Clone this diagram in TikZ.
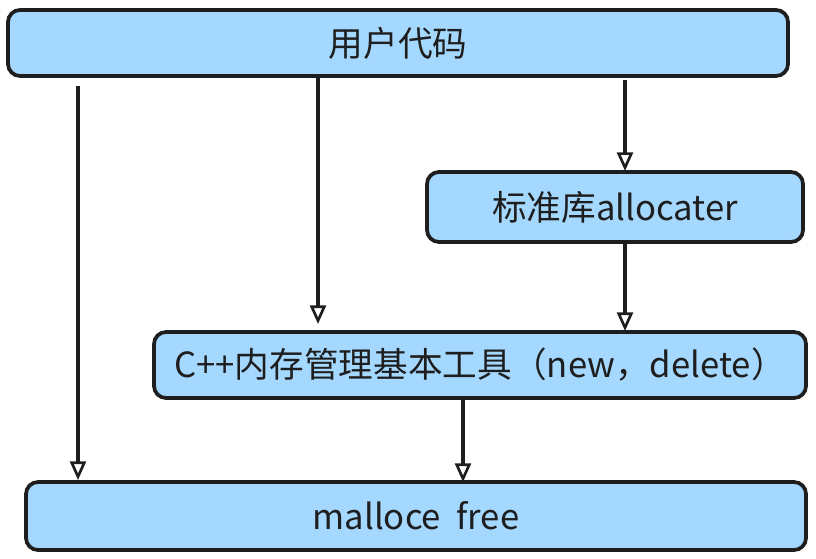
\documentclass[tikz,border=0pt]{standalone}
\usepackage{fontspec}
\setmainfont{Noto Sans CJK SC}
\usetikzlibrary{arrows.meta}
\definecolor{boxfill}{HTML}{A5D8FF}
\definecolor{ink}{HTML}{1E1E1E}
\tikzset{
  box/.style={draw=ink, fill=boxfill, line width=2.8pt, rounded corners=9pt, font=\fontsize{26}{30}\selectfont, text=ink},
  flow/.style={draw=ink, line width=2.6pt, -{Triangle[open, length=14pt, width=12pt, line width=2pt]}}
}
\begin{document}
\begin{tikzpicture}[x=0.75pt, y=-0.75pt]
  \useasboundingbox (0,0) rectangle (816,559);
  \node[box, minimum width=780*0.75pt, minimum height=66*0.75pt] (user) at (398,43) {用户代码};
  \node[box, minimum width=376*0.75pt, minimum height=70*0.75pt] (std) at (615,207) {标准库allocater};
  \node[box, minimum width=652*0.75pt, minimum height=66*0.75pt] (cpp) at (480,365) {C++内存管理基本工具（new，delete）};
  \node[box, minimum width=780*0.75pt, minimum height=68*0.75pt] (mal) at (416,516) {malloce\ \ free};
  \draw[flow] (78,86) -- (78,480);
  \draw[flow] (318,78) -- (318,324);
  \draw[flow] (625,80) -- (625,171);
  \draw[flow] (625,243) -- (625,331);
  \draw[flow] (463,399) -- (463,482);
\end{tikzpicture}
\end{document}
